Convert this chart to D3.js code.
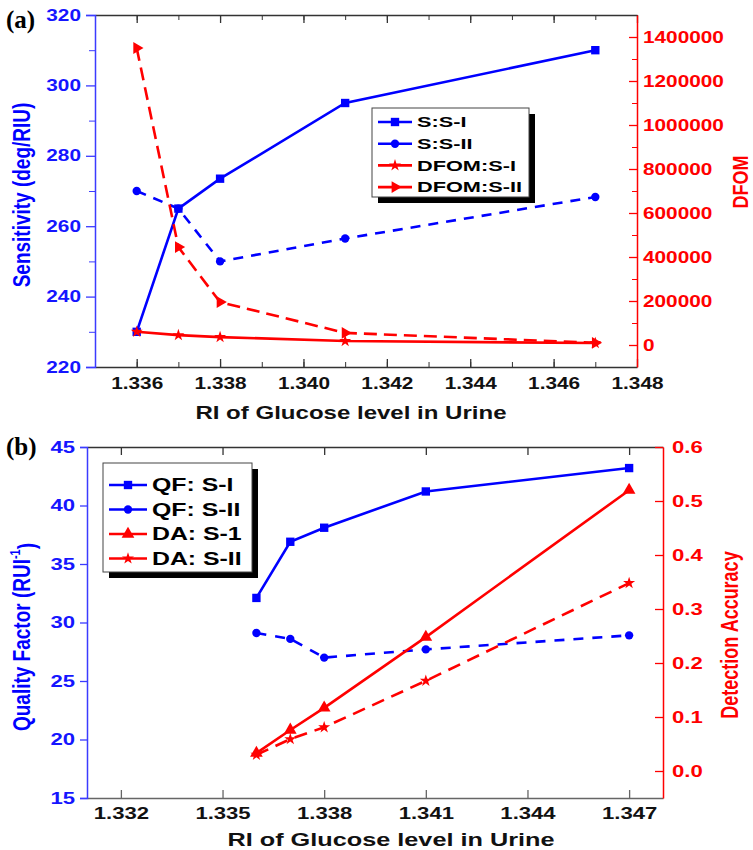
<!DOCTYPE html>
<html>
<head>
<meta charset="utf-8">
<script src="https://cdn.jsdelivr.net/npm/d3@7"></script>
<style>
  body { margin: 0; background: #fff; }
  text { font-family: "Liberation Sans", Arial, sans-serif; font-weight: bold; }
</style>
</head>
<body>
<svg id="chart" width="753" height="850"></svg>
<script>
// panel (a) data
const riA = [1.336, 1.337, 1.338, 1.341, 1.347];
const sensS1 = [230, 265, 273.5, 295, 310];
const sensS2 = [270, 265, 250, 256.5, 268.3];
const dfomS1 = [60000, 45000, 36000, 18000, 9000];
const dfomS2 = [1350000, 445000, 195000, 55000, 10000];
const xTicksA = [1.336, 1.338, 1.340, 1.342, 1.344, 1.346, 1.348];
const sensTicks = [220, 240, 260, 280, 300, 320];
const dfomTicks = [0, 200000, 400000, 600000, 800000, 1000000, 1200000, 1400000];

// panel (b) data
const riB = [1.336, 1.337, 1.338, 1.341, 1.347];
const qfS1 = [32.1, 36.9, 38.1, 41.2, 43.2];
const qfS2 = [29.1, 28.6, 27.0, 27.7, 28.9];
const daS1 = [0.033, 0.076, 0.117, 0.248, 0.52];
const daS2 = [0.03, 0.059, 0.081, 0.167, 0.348];
const xTicksB = [1.332, 1.335, 1.338, 1.341, 1.344, 1.347];
const qfTicks = [15, 20, 25, 30, 35, 40, 45];
const daTicks = [0.0, 0.1, 0.2, 0.3, 0.4, 0.5, 0.6];

const BLUE = "#0000ff", RED = "#ff0000", AXB = "#3b3bff", DARK = "#333";
const svg = d3.select("#chart");

// stretch text horizontally about its anchor (the picture is wider than tall)
function widen(sel, s) {
  sel.each(function() {
    const t = d3.select(this);
    const x = +t.attr("x") || 0;
    t.attr("transform", `translate(${x * (1 - s)},0) scale(${s},1)`);
  });
}

function sym(type, size, rot) {
  return { d: d3.symbol().type(type).size(size)(), rot: rot || 0 };
}
const SQ = sym(d3.symbolSquare, 70), CI = sym(d3.symbolCircle, 55),
      ST = sym(d3.symbolStar, 45), TR = sym(d3.symbolTriangle, 60, 90),
      TU = sym(d3.symbolTriangle, 70);

function series(g, x, y, xs, ys, color, dash, mk) {
  const pts = xs.map((v, i) => [v, ys[i]]);
  g.append("path")
    .attr("d", d3.line().x(d => x(d[0])).y(d => y(d[1]))(pts))
    .attr("fill", "none").attr("stroke", color).attr("stroke-width", 2.6)
    .attr("stroke-dasharray", dash);
  g.selectAll(null).data(pts).enter().append("path")
    .attr("d", mk.d).attr("fill", color)
    .attr("transform", d => `translate(${x(d[0])},${y(d[1])}) rotate(${mk.rot})`);
}

function legend(g, x0, y0, w, h, rows, fs, s) {
  g.append("rect").attr("x", x0 + 6).attr("y", y0 + 6).attr("width", w).attr("height", h).attr("fill", "#000");
  g.append("rect").attr("x", x0).attr("y", y0).attr("width", w).attr("height", h)
    .attr("fill", "#fff").attr("stroke", "#444").attr("stroke-width", 1);
  rows.forEach((r, i) => {
    const yy = y0 + r.dy + i * r.step;
    g.append("line").attr("x1", x0 + 6).attr("x2", x0 + r.len).attr("y1", yy).attr("y2", yy)
      .attr("stroke", r.color).attr("stroke-width", 2.6);
    g.append("path").attr("d", r.mk.d).attr("fill", r.color)
      .attr("transform", `translate(${x0 + 6 + (r.len - 6) / 2},${yy}) rotate(${r.mk.rot})`);
    const t = g.append("text").attr("x", x0 + r.len + 5).attr("y", yy).attr("dy", "0.36em")
      .attr("font-size", fs).attr("fill", "#000").text(r.label);
    widen(t, s);
  });
}

function styleAxis(g, color, fs, s, textColor) {
  g.select(".domain").attr("stroke", color).attr("stroke-width", 1.5);
  g.selectAll(".tick line").attr("stroke", color).attr("stroke-width", 1.3);
  g.selectAll(".tick text").attr("font-size", fs).attr("fill", textColor || color);
  widen(g.selectAll(".tick text"), s);
}

function minor(g, axis) {
  g.call(axis.tickFormat(""));
  g.select(".domain").remove();
}

// ---------------- panel (a) ----------------
{
  const L = 95, R = 637, T = 15, B = 367;
  const x = d3.scaleLinear().domain([1.335, 1.348]).range([L, R]);
  const y = d3.scaleLinear().domain([220, 320]).range([B, T]);
  const y2 = d3.scaleLinear().domain([-100000, 1500000]).range([B, T]);
  const g = svg.append("g");
  const fs = 16, s = 1.3;

  const minX = d3.range(1.335, 1.3481, 0.001);
  minor(g.append("g").attr("transform", `translate(0,${B})`),
    d3.axisBottom(x).tickValues(minX).tickSizeInner(-5).tickSizeOuter(0));
  minor(g.append("g").attr("transform", `translate(0,${T})`),
    d3.axisTop(x).tickValues(minX).tickSizeInner(-5).tickSizeOuter(0));
  g.selectAll(".tick line").attr("stroke", DARK).attr("stroke-width", 1);
  minor(g.append("g").attr("transform", `translate(${L},0)`).attr("class", "ml"),
    d3.axisLeft(y).tickValues(d3.range(230, 320, 20)).tickSize(6));
  minor(g.append("g").attr("transform", `translate(${R},0)`).attr("class", "mr"),
    d3.axisRight(y2).tickValues(d3.range(100000, 1500000, 200000)).tickSizeInner(-5).tickSizeOuter(0));
  g.selectAll(".ml .tick line").attr("stroke", AXB).attr("stroke-width", 1);
  g.selectAll(".mr .tick line").attr("stroke", RED).attr("stroke-width", 1);

  const xb = g.append("g").attr("transform", `translate(0,${B})`)
    .call(d3.axisBottom(x).tickValues(xTicksA).tickFormat(d3.format(".3f")).tickSizeInner(-8).tickSizeOuter(0).tickPadding(11));
  styleAxis(xb, DARK, fs, s, "#111");
  const xt = g.append("g").attr("transform", `translate(0,${T})`)
    .call(d3.axisTop(x).tickValues(xTicksA).tickFormat("").tickSizeInner(-8).tickSizeOuter(0));
  styleAxis(xt, DARK, fs, s);
  const yl = g.append("g").attr("transform", `translate(${L},0)`)
    .call(d3.axisLeft(y).tickValues(sensTicks).tickSize(9).tickPadding(5));
  styleAxis(yl, AXB, fs, s, "#1515ff");
  const yr = g.append("g").attr("transform", `translate(${R},0)`)
    .call(d3.axisRight(y2).tickValues(dfomTicks).tickFormat(d3.format("d")).tickSizeInner(-8).tickSizeOuter(0).tickPadding(6));
  styleAxis(yr, RED, fs, s);

  series(g, x, y, riA, sensS1, BLUE, null, SQ);
  series(g, x, y, riA, sensS2, BLUE, "10,8", CI);
  series(g, x, y2, riA, dfomS1, RED, null, ST);
  series(g, x, y2, riA, dfomS2, RED, "13,7", TR);

  legend(g, 372, 108, 157, 89, [
    { label: "S:S-I", color: BLUE, mk: SQ },
    { label: "S:S-II", color: BLUE, mk: CI },
    { label: "DFOM:S-I", color: RED, mk: ST },
    { label: "DFOM:S-II", color: RED, mk: TR }
  ].map(r => Object.assign(r, { dy: 14, step: 21.7, len: 40 })), 15, 1.45);

  widen(g.append("text").attr("x", 351).attr("y", 419).attr("text-anchor", "middle")
    .attr("font-size", 18.5).attr("fill", "#111").text("RI of Glucose level in Urine"), 1.3);
  g.append("text").attr("transform", "translate(21,195) scale(1.25,1) rotate(-90)")
    .attr("text-anchor", "middle").attr("dy", "0.36em").attr("font-size", 19).attr("fill", BLUE)
    .text("Sensitivity (deg/RIU)");
  g.append("text").attr("transform", "translate(740,182) scale(1.25,1) rotate(-90)")
    .attr("text-anchor", "middle").attr("dy", "0.36em").attr("font-size", 18).attr("fill", RED)
    .text("DFOM");
  g.append("text").attr("x", 6).attr("y", 28).attr("font-size", 25).attr("fill", "#000")
    .style("font-family", "'Liberation Serif', 'Times New Roman', serif").text("(a)");
}

// ---------------- panel (b) ----------------
{
  const L = 87, R = 663, T = 447, B = 798;
  const x = d3.scaleLinear().domain([1.331, 1.348]).range([L, R]);
  const y = d3.scaleLinear().domain([15, 45]).range([B, T]);
  const y2 = d3.scaleLinear().domain([-0.05, 0.6]).range([B, T]);
  const g = svg.append("g");
  const fs = 16, s = 1.38;

  const xb = g.append("g").attr("transform", `translate(0,${B})`)
    .call(d3.axisBottom(x).tickValues(xTicksB).tickFormat(d3.format(".3f")).tickSizeInner(-8).tickSizeOuter(0).tickPadding(10));
  styleAxis(xb, "#666", fs, s, "#111");
  const xt = g.append("g").attr("transform", `translate(0,${T})`)
    .call(d3.axisTop(x).tickValues(xTicksB).tickFormat("").tickSizeInner(-8).tickSizeOuter(0));
  styleAxis(xt, DARK, fs, s);
  const yl = g.append("g").attr("transform", `translate(${L},0)`)
    .call(d3.axisLeft(y).tickValues(qfTicks).tickSize(7).tickPadding(5));
  styleAxis(yl, AXB, fs, s, "#1515ff");
  const yr = g.append("g").attr("transform", `translate(${R},0)`)
    .call(d3.axisRight(y2).tickValues(daTicks).tickFormat(d3.format(".1f")).tickSizeInner(-8).tickSizeOuter(0).tickPadding(9));
  styleAxis(yr, RED, fs, s);

  series(g, x, y, riB, qfS1, BLUE, null, SQ);
  series(g, x, y, riB, qfS2, BLUE, "10,9", CI);
  series(g, x, y2, riB, daS1, RED, null, TU);
  series(g, x, y2, riB, daS2, RED, "13,8", ST);

  legend(g, 103, 463, 149, 109, [
    { label: "QF: S-I", color: BLUE, mk: SQ },
    { label: "QF: S-II", color: BLUE, mk: CI },
    { label: "DA: S-1", color: RED, mk: TU },
    { label: "DA: S-II", color: RED, mk: ST }
  ].map(r => Object.assign(r, { dy: 22, step: 24.5, len: 44 })), 18, 1.38);

  widen(g.append("text").attr("x", 391).attr("y", 846).attr("text-anchor", "middle")
    .attr("font-size", 19).attr("fill", "#111").text("RI of Glucose level in Urine"), 1.33);
  const q = g.append("text").attr("transform", "translate(21,637) scale(1.25,1) rotate(-90)")
    .attr("text-anchor", "middle").attr("dy", "0.36em").attr("font-size", 19).attr("fill", BLUE);
  q.append("tspan").text("Quality Factor (RUI");
  q.append("tspan").attr("font-size", 11).attr("dy", "-0.7em").text("-1");
  q.append("tspan").attr("dy", "0.65em").text(")");
  g.append("text").attr("transform", "translate(730,635) scale(1.3,1) rotate(-90)")
    .attr("text-anchor", "middle").attr("dy", "0.36em").attr("font-size", 18).attr("fill", RED)
    .text("Detection Accuracy");
  g.append("text").attr("x", 6).attr("y", 455).attr("font-size", 25).attr("fill", "#000")
    .style("font-family", "'Liberation Serif', 'Times New Roman', serif").text("(b)");
}
</script>
</body>
</html>
